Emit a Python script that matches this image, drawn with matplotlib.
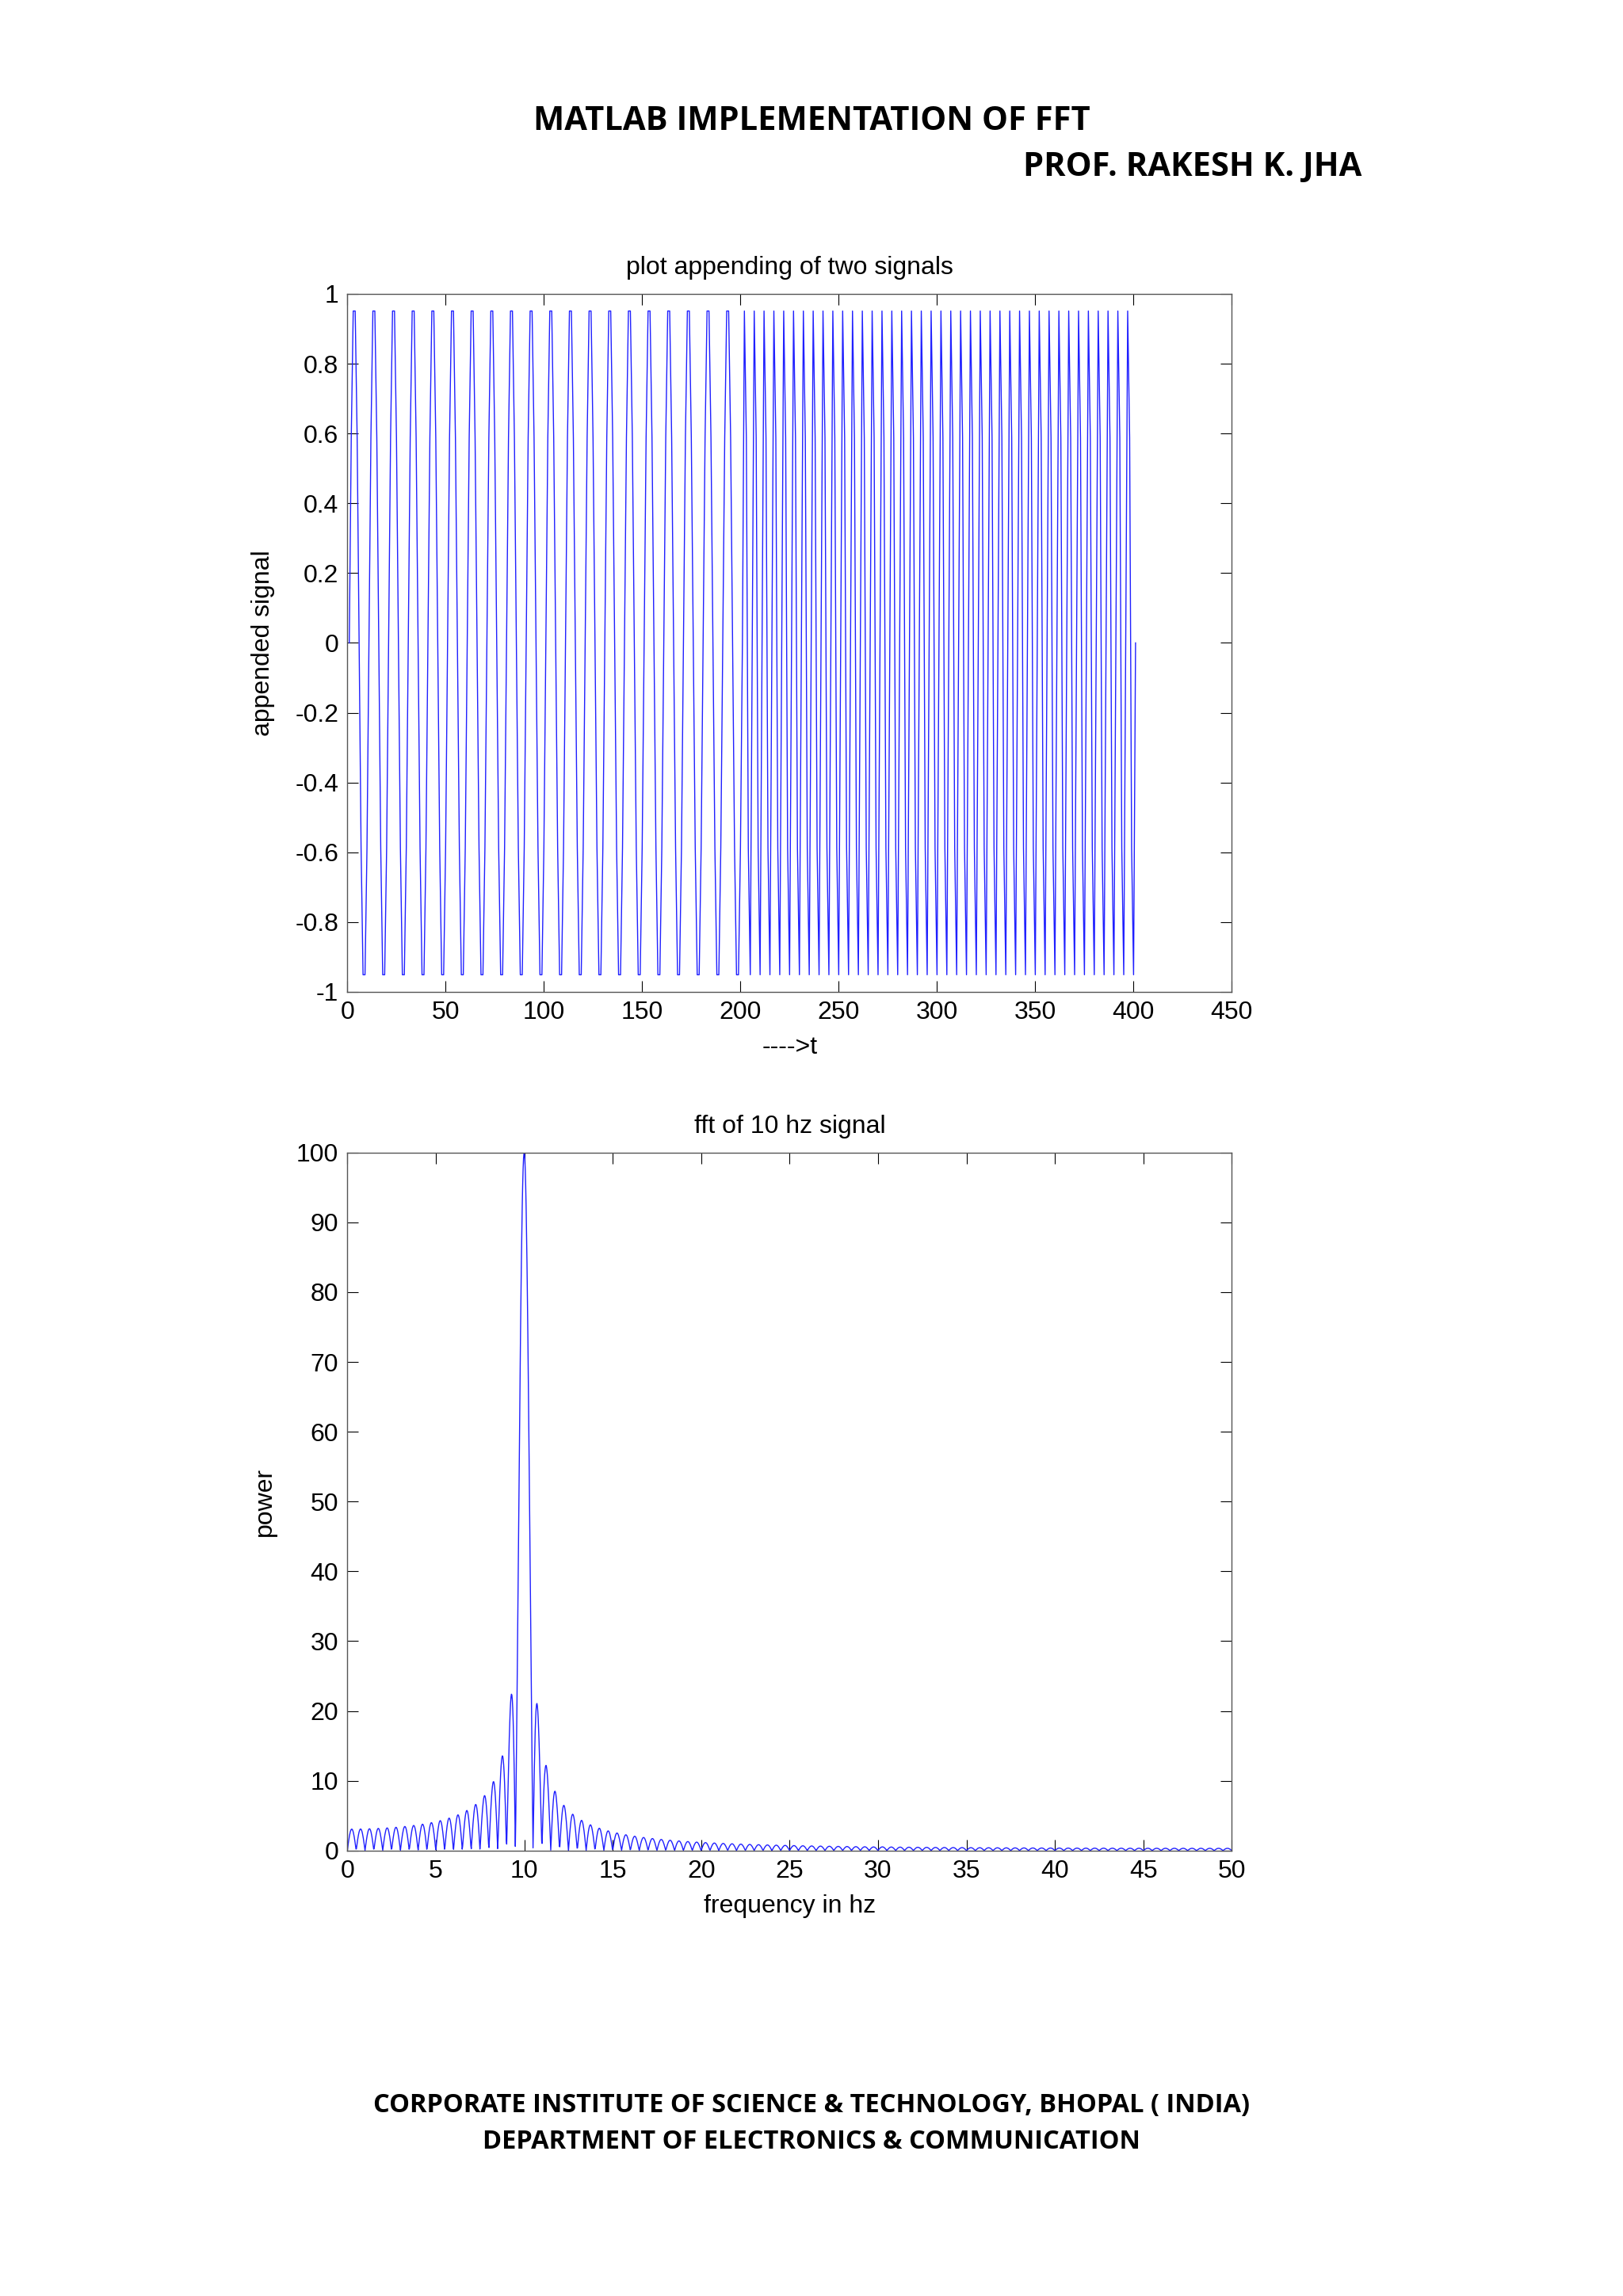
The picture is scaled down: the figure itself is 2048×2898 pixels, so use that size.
import numpy as np
import matplotlib
matplotlib.use("Agg")
import matplotlib.pyplot as plt

cycle_10hz = [0.0, 0.588, 0.951, 0.951, 0.588, 0.0, -0.588, -0.951, -0.951, -0.588]
cycle_20hz = [0.0, 0.951, 0.588, -0.588, -0.951]
n_cycles_10hz = 20
n_cycles_20hz = 40
fs = 100
nfft = 4096

top_xticks = [0, 50, 100, 150, 200, 250, 300, 350, 400, 450]
top_yticks = [-1, -0.8, -0.6, -0.4, -0.2, 0, 0.2, 0.4, 0.6, 0.8, 1]
bot_xticks = [0, 5, 10, 15, 20, 25, 30, 35, 40, 45, 50]
bot_yticks = [0, 10, 20, 30, 40, 50, 60, 70, 80, 90, 100]

x1 = np.tile(cycle_10hz, n_cycles_10hz)
x2 = np.tile(cycle_20hz, n_cycles_20hz)
sig = np.concatenate([x1, x2, [0.0]])
t = np.arange(1, len(sig) + 1)

spec = np.abs(np.fft.fft(x1, nfft))
freq = fs * np.arange(nfft) / nfft
keep = freq <= 50

blue = "#2020ff"
fs_tick = 23
plt.rcParams["font.family"] = "Liberation Sans"

fig = plt.figure(figsize=(20.48, 28.98), dpi=100)
fig.patch.set_facecolor("white")

def style(ax):
    ax.tick_params(direction="in", top=True, right=True, length=10, labelsize=fs_tick, pad=8)
    for s in ax.spines.values():
        s.set_linewidth(1.0)
        s.set_color("#555555")

ax1 = fig.add_axes([0.214, 0.568, 0.545, 0.304])
ax1.plot(t, sig, color=blue, lw=1.0)
ax1.set_xlim(0, 450)
ax1.set_ylim(-1, 1)
ax1.set_xticks(top_xticks)
ax1.set_yticks(top_yticks)
ax1.set_yticklabels([f"{v:g}" for v in top_yticks])
ax1.set_title("plot appending of two signals", fontsize=fs_tick, pad=18)
ax1.set_xlabel("---->t", fontsize=fs_tick, labelpad=10)
ax1.set_ylabel("appended signal", fontsize=fs_tick, labelpad=18)
style(ax1)

ax2 = fig.add_axes([0.214, 0.194, 0.545, 0.304])
ax2.plot(freq[keep], spec[keep], color=blue, lw=1.0)
ax2.set_xlim(0, 50)
ax2.set_ylim(0, 100)
ax2.set_xticks(bot_xticks)
ax2.set_yticks(bot_yticks)
ax2.set_title("fft of 10 hz signal", fontsize=fs_tick, pad=18)
ax2.set_xlabel("frequency in hz", fontsize=fs_tick, labelpad=10)
ax2.set_ylabel("power", fontsize=fs_tick, labelpad=18)
style(ax2)

hfont = dict(family="Open Sans", weight="bold", color="black")
fig.text(0.5, 0.947, "MATLAB IMPLEMENTATION OF FFT", ha="center", va="center", fontsize=30, **hfont)
fig.text(0.839, 0.927, "PROF. RAKESH K. JHA", ha="right", va="center", fontsize=30, **hfont)
fig.text(0.5, 0.083, "CORPORATE INSTITUTE OF SCIENCE & TECHNOLOGY, BHOPAL ( INDIA)", ha="center", va="center", fontsize=23.5, **hfont)
fig.text(0.5, 0.067, "DEPARTMENT OF ELECTRONICS & COMMUNICATION", ha="center", va="center", fontsize=23.5, **hfont)

fig.savefig("out.png", dpi=100, facecolor="white")
